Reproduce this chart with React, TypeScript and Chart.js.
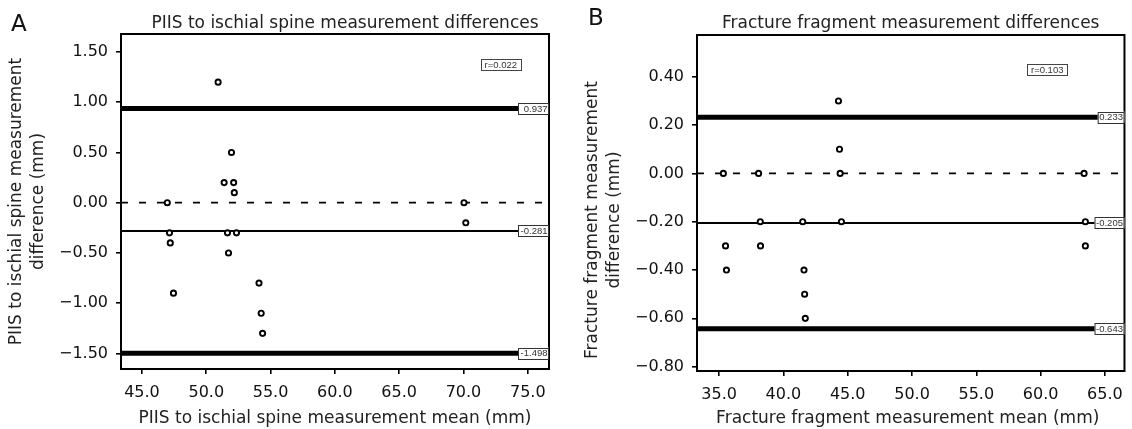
import React, { useEffect, useRef } from "react";
import { Chart, registerables } from "chart.js";

Chart.register(...registerables);

// ---------- Panel A data ----------
const A_MEAN_X = [50.92, 46.97, 47.14, 47.2, 47.45, 51.39, 52.13, 51.96, 52.18, 51.65, 52.35, 51.73, 54.1, 54.27, 54.38, 70.04, 70.18];
const A_DIFF_Y = [1.2, 0, -0.3, -0.4, -0.9, 0.2, 0.2, 0.5, 0.1, -0.3, -0.3, -0.5, -0.8, -1.1, -1.3, 0, -0.2];
const A_X_TICKS = [45, 50, 55, 60, 65, 70, 75];
const A_Y_TICKS = [-1.5, -1.0, -0.5, 0, 0.5, 1.0, 1.5];
const A_UPPER = 0.937;
const A_BIAS = -0.281;
const A_LOWER = -1.498;
const A_R = "r=0.022";

// ---------- Panel B data ----------
const B_MEAN_X = [35.33, 35.5, 35.57, 38.07, 38.2, 38.22, 41.5, 41.6, 41.65, 41.7, 44.28, 44.36, 44.41, 44.51, 63.38, 63.48, 63.48];
const B_DIFF_Y = [0, -0.3, -0.4, 0, -0.2, -0.3, -0.2, -0.4, -0.5, -0.6, 0.3, 0.1, 0, -0.2, 0, -0.2, -0.3];
const B_X_TICKS = [35, 40, 45, 50, 55, 60, 65];
const B_Y_TICKS = [-0.8, -0.6, -0.4, -0.2, 0, 0.2, 0.4];
const B_UPPER = 0.233;
const B_BIAS = -0.205;
const B_LOWER = -0.643;
const B_R = "r=0.103";

const FONT = "'DejaVu Sans', sans-serif";
const SMALL_FONT = "'Liberation Sans', Arial, sans-serif";

const fmt = (v: number, d: number) => (v < -1e-9 ? "\u2212" : "") + Math.abs(v).toFixed(d);
const fmtLabel = (v: number) => (v < 0 ? "-" : "") + Math.abs(v).toFixed(3);

interface Panel {
  letter: string;
  title: string;
  xTitle: string;
  yTitle: [string, string];
  xs: number[];
  ys: number[];
  xTicks: number[];
  yTicks: number[];
  xMin: number;
  xMax: number;
  yMin: number;
  yMax: number;
  upper: number;
  bias: number;
  lower: number;
  r: string;
  // layout
  left: number;
  yAxisW: number;
  padRight: number;
  padTop: number;
  xAxisH: number;
  letterX: number;
  letterY: number;
  titleDx: number;
  xTitleDx: number;
  yTitleDy: number;
  labelMinW: number;
  rRight: number;
  rTop: number;
}

const PANELS: Panel[] = [
  {
    letter: "A",
    title: "PIIS to ischial spine measurement differences",
    xTitle: "PIIS to ischial spine measurement mean (mm)",
    yTitle: ["PIIS to ischial spine measurement", "difference (mm)"],
    xs: A_MEAN_X,
    ys: A_DIFF_Y,
    xTicks: A_X_TICKS,
    yTicks: A_Y_TICKS,
    xMin: 43.37,
    xMax: 76.65,
    yMin: -1.655,
    yMax: 1.679,
    upper: A_UPPER,
    bias: A_BIAS,
    lower: A_LOWER,
    r: A_R,
    left: 0,
    yAxisW: 121,
    padRight: 17,
    padTop: 34,
    xAxisH: 60,
    letterX: 11,
    letterY: 31,
    titleDx: 10,
    xTitleDx: 0,
    yTitleDy: 0,
    labelMinW: 31,
    rRight: 28,
    rTop: 25,
  },
  {
    letter: "B",
    title: "Fracture fragment measurement differences",
    xTitle: "Fracture fragment measurement mean (mm)",
    yTitle: ["Fracture fragment measurement", "difference (mm)"],
    xs: B_MEAN_X,
    ys: B_DIFF_Y,
    xTicks: B_X_TICKS,
    yTicks: B_Y_TICKS,
    xMin: 33.28,
    xMax: 66.52,
    yMin: -0.818,
    yMax: 0.573,
    upper: B_UPPER,
    bias: B_BIAS,
    lower: B_LOWER,
    r: B_R,
    left: 566,
    yAxisW: 131,
    padRight: 4,
    padTop: 35,
    xAxisH: 58,
    letterX: 22,
    letterY: 25,
    titleDx: 0,
    xTitleDx: -3,
    yTitleDy: 17,
    labelMinW: 0,
    rRight: 57,
    rTop: 29,
  },
];

function makeOverlay(p: Panel) {
  return {
    id: "overlay" + p.letter,
    afterDatasetsDraw(chart: any) {
      const ctx = chart.ctx as CanvasRenderingContext2D;
      const ca = chart.chartArea;
      const yS = chart.scales.y;
      ctx.save();
      // plot frame
      ctx.strokeStyle = "#000";
      ctx.lineWidth = 2;
      ctx.strokeRect(ca.left, ca.top, ca.right - ca.left, ca.bottom - ca.top);

      // line value labels
      ctx.font = `9.5px ${SMALL_FONT}`;
      ctx.textAlign = "right";
      ctx.textBaseline = "middle";
      [p.upper, p.bias, p.lower].forEach((v) => {
        const txt = fmtLabel(v);
        const tw = ctx.measureText(txt).width;
        const w = Math.max(p.labelMinW, tw + 3);
        const h = 11;
        const y = yS.getPixelForValue(v);
        const x1 = ca.right;
        ctx.fillStyle = "#fff";
        ctx.fillRect(x1 - w, y - h / 2, w, h);
        ctx.strokeStyle = "#333";
        ctx.lineWidth = 1;
        ctx.strokeRect(x1 - w + 0.5, Math.round(y - h / 2) + 0.5, w - 1, h);
        ctx.fillStyle = "#333";
        ctx.fillText(txt, x1 - 1.5, y + 0.5);
      });

      // r box
      {
        const tw = ctx.measureText(p.r).width;
        const w = tw + 8;
        const h = 11;
        const x1 = ca.right - p.rRight;
        const y0 = ca.top + p.rTop;
        ctx.fillStyle = "#fff";
        ctx.fillRect(x1 - w, y0, w, h);
        ctx.strokeStyle = "#444";
        ctx.lineWidth = 1;
        ctx.strokeRect(Math.round(x1 - w) + 0.5, Math.round(y0) + 0.5, Math.round(w), h);
        ctx.fillStyle = "#333";
        ctx.textAlign = "center";
        ctx.fillText(p.r, x1 - w / 2, y0 + h / 2 + 0.5);
      }
      ctx.restore();
    },
    afterDraw(chart: any) {
      const ctx = chart.ctx as CanvasRenderingContext2D;
      const ca = chart.chartArea;
      const cx = (ca.left + ca.right) / 2;
      const cy = (ca.top + ca.bottom) / 2;
      ctx.save();
      ctx.fillStyle = "#111";
      // panel letter
      ctx.font = `23px ${FONT}`;
      ctx.textAlign = "left";
      ctx.textBaseline = "alphabetic";
      ctx.fillText(p.letter, p.letterX, p.letterY);
      // title
      ctx.font = `17px ${FONT}`;
      ctx.textAlign = "center";
      ctx.fillStyle = "#222";
      ctx.fillText(p.title, cx + p.titleDx, 28);
      // x axis title
      ctx.fillText(p.xTitle, cx + p.xTitleDx, 423);
      // y axis title
      ctx.translate(ca.left, cy + p.yTitleDy);
      ctx.rotate(-Math.PI / 2);
      ctx.textBaseline = "middle";
      ctx.fillText(p.yTitle[0], 0, -104);
      ctx.fillText(p.yTitle[1], 0, -82);
      ctx.restore();
    },
  };
}

function buildChart(canvas: HTMLCanvasElement, p: Panel) {
  const lineDs = (v: number, width: number, dash: number[] = []) => ({
    data: [
      { x: p.xMin, y: v },
      { x: p.xMax, y: v },
    ],
    showLine: true,
    borderColor: "#000",
    borderWidth: width,
    borderDash: dash,
    pointRadius: 0,
    order: 2,
  });
  const tickFont = { family: FONT, size: 16 };
  return new Chart(canvas, {
    type: "scatter",
    data: {
      datasets: [
        {
          data: p.xs.map((x, i) => ({ x, y: p.ys[i] })),
          pointRadius: 2.6,
          pointBorderWidth: 1.9,
          pointBorderColor: "#000",
          pointBackgroundColor: "#fff",
          order: 0,
        } as any,
        lineDs(0, 1.8, [7, 11]),
        lineDs(p.bias, 2),
        lineDs(p.upper, 5),
        lineDs(p.lower, 5),
      ],
    },
    options: {
      animation: false,
      responsive: false,
      maintainAspectRatio: false,
      layout: { padding: { left: 0, top: p.padTop, right: p.padRight, bottom: 0 } },
      plugins: {
        legend: { display: false },
        tooltip: { enabled: false },
        title: { display: false },
      },
      scales: {
        x: {
          type: "linear",
          min: p.xMin,
          max: p.xMax,
          afterBuildTicks: (s: any) => {
            s.ticks = p.xTicks.map((v) => ({ value: v }));
          },
          afterFit: (s: any) => {
            s.height = p.xAxisH;
          },
          ticks: {
            callback: (v: any) => fmt(Number(v), 1),
            font: tickFont,
            color: "#111",
            padding: 9,
            maxRotation: 0,
            autoSkip: false,
          },
          grid: {
            display: true,
            drawOnChartArea: false,
            drawTicks: true,
            tickLength: 5,
            color: "#000",
            lineWidth: 1.6,
          },
          border: { display: false },
        },
        y: {
          type: "linear",
          min: p.yMin,
          max: p.yMax,
          afterBuildTicks: (s: any) => {
            s.ticks = p.yTicks.map((v) => ({ value: v }));
          },
          afterFit: (s: any) => {
            s.width = p.yAxisW;
          },
          ticks: {
            callback: (v: any) => fmt(Number(v), 2),
            font: tickFont,
            color: "#111",
            padding: 8,
            autoSkip: false,
          },
          grid: {
            display: true,
            drawOnChartArea: false,
            drawTicks: true,
            tickLength: 5,
            color: "#000",
            lineWidth: 1.6,
          },
          border: { display: false },
        },
      },
    },
    plugins: [makeOverlay(p)],
  } as any);
}

function PanelChart({ p }: { p: Panel }) {
  const ref = useRef<HTMLCanvasElement | null>(null);
  useEffect(() => {
    if (!ref.current) return;
    const chart = buildChart(ref.current, p);
    return () => chart.destroy();
  }, [p]);
  return (
    <canvas
      ref={ref}
      width={566}
      height={429}
      style={{ position: "absolute", left: p.left, top: 0, width: 566, height: 429, display: "block" }}
    />
  );
}

export default function App() {
  return (
    <div
      style={{
        position: "fixed",
        left: 0,
        top: 0,
        width: 1132,
        height: 429,
        background: "#fff",
        overflow: "hidden",
      }}
    >
      {PANELS.map((p) => (
        <PanelChart key={p.letter} p={p} />
      ))}
    </div>
  );
}
